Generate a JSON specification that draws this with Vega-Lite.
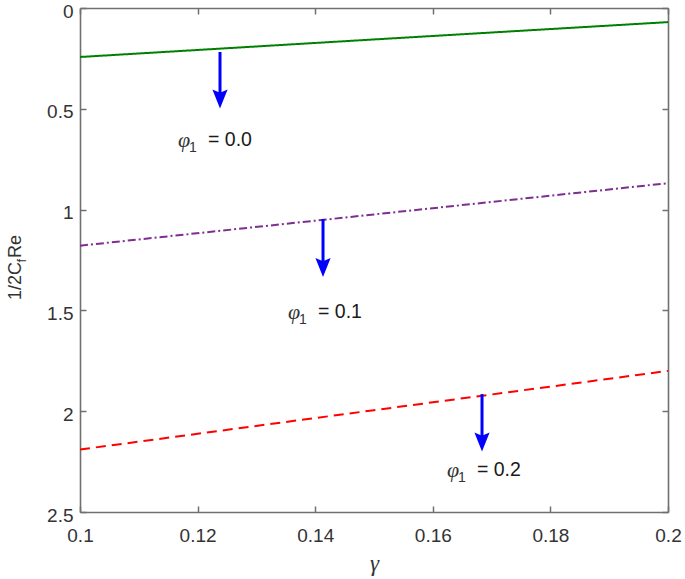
{
  "$schema": "https://vega.github.io/schema/vega-lite/v6.json",
  "width": 588,
  "height": 504,
  "autosize": {"type": "none"},
  "padding": {"left": 80, "top": 8, "right": 17, "bottom": 67},
  "background": "white",
  "config": {
    "view": {"stroke": null},
    "axis": {
      "grid": false,
      "domainColor": "#707070",
      "domainWidth": 1.6,
      "tickColor": "#707070",
      "tickWidth": 1.5,
      "tickSize": -6,
      "labelFlush": false,
      "labelFont": "Liberation Sans",
      "labelFontSize": 19,
      "labelColor": "#333333"
    }
  },
  "datasets": {
    "lines": [
      {"gamma": 0.1, "value": 0.243, "series": "phi0"},
      {"gamma": 0.15, "value": 0.156, "series": "phi0"},
      {"gamma": 0.2, "value": 0.07, "series": "phi0"},
      {"gamma": 0.1, "value": 1.179, "series": "phi1"},
      {"gamma": 0.15, "value": 1.024, "series": "phi1"},
      {"gamma": 0.2, "value": 0.869, "series": "phi1"},
      {"gamma": 0.1, "value": 2.19, "series": "phi2"},
      {"gamma": 0.15, "value": 1.995, "series": "phi2"},
      {"gamma": 0.2, "value": 1.8, "series": "phi2"}
    ],
    "arrows": [
      {"ax": 0.12381, "top": 0.218, "head": 0.451},
      {"ax": 0.14133, "top": 1.047, "head": 1.287},
      {"ax": 0.16837, "top": 1.915, "head": 2.153}
    ],
    "labels": [
      {"lx": 0.11667, "ly": 0.655, "sym": "φ", "sub": "1", "rest": "= 0.0"},
      {"lx": 0.13537, "ly": 1.508, "sym": "φ", "sub": "1", "rest": "= 0.1"},
      {"lx": 0.16241, "ly": 2.292, "sym": "φ", "sub": "1", "rest": "= 0.2"}
    ],
    "ytitle": [
      {"tx": 0.08912, "ty": 1.448, "part": "1/2C", "kind": "main"},
      {"tx": 0.08912, "ty": 1.262, "part": "f", "kind": "sub"},
      {"tx": 0.08912, "ty": 1.24, "part": "Re", "kind": "main2"}
    ]
  },
  "layer": [
    {
      "data": {"name": "lines"},
      "mark": {"type": "line", "strokeWidth": 2},
      "encoding": {
        "x": {
          "field": "gamma", "type": "quantitative",
          "scale": {"domain": [0.1, 0.2], "nice": false, "zero": false},
          "axis": {
            "orient": "bottom",
            "values": [0.1, 0.12, 0.14, 0.16, 0.18, 0.2],
            "format": "~g",
            "labelPadding": 20,
            "title": "γ",
            "titleFont": "Liberation Serif",
            "titleFontStyle": "italic",
            "titleFontWeight": "normal",
            "titleFontSize": 23,
            "titleColor": "#333333",
            "titlePadding": 7
          }
        },
        "y": {
          "field": "value", "type": "quantitative",
          "scale": {"domain": [0, 2.5], "nice": false, "zero": false, "reverse": true},
          "axis": {
            "orient": "left",
            "values": [0, 0.5, 1, 1.5, 2, 2.5],
            "format": "~g",
            "labelPadding": 13,
            "labelOffset": 3,
            "title": null
          }
        },
        "color": {
          "field": "series", "type": "nominal",
          "scale": {"domain": ["phi0", "phi1", "phi2"], "range": ["#008000", "#7E2F8E", "#FF0000"]},
          "legend": null
        },
        "strokeDash": {
          "field": "series", "type": "nominal",
          "scale": {"domain": ["phi0", "phi1", "phi2"], "range": [[1, 0], [8, 3, 2, 3], [10, 6]]},
          "legend": null
        }
      }
    },
    {
      "data": {"name": "arrows"},
      "mark": {"type": "rule", "color": "#0000FF", "strokeWidth": 3},
      "encoding": {
        "x": {
          "field": "ax", "type": "quantitative",
          "axis": {"orient": "top", "values": [0.1, 0.12, 0.14, 0.16, 0.18, 0.2], "labels": false, "title": null}
        },
        "y": {
          "field": "top", "type": "quantitative",
          "axis": {"orient": "right", "values": [0, 0.5, 1, 1.5, 2, 2.5], "labels": false, "title": null}
        },
        "y2": {"field": "head"}
      }
    },
    {
      "data": {"name": "arrows"},
      "mark": {
        "type": "point", "filled": true, "color": "#0000FF", "opacity": 1,
        "shape": "M-0.8,-1L0,-0.65L0.8,-1L0,1Z", "size": 361
      },
      "encoding": {
        "x": {"field": "ax", "type": "quantitative", "axis": null},
        "y": {"field": "head", "type": "quantitative", "axis": null}
      }
    },
    {
      "data": {"name": "labels"},
      "mark": {"type": "text", "align": "left", "baseline": "middle", "font": "Liberation Serif", "fontStyle": "italic", "fontSize": 22, "color": "#333333"},
      "encoding": {
        "x": {"field": "lx", "type": "quantitative", "axis": null},
        "y": {"field": "ly", "type": "quantitative", "axis": null},
        "text": {"field": "sym"}
      }
    },
    {
      "data": {"name": "labels"},
      "mark": {"type": "text", "align": "left", "baseline": "middle", "font": "Liberation Sans", "fontSize": 14, "dx": 11, "dy": 8, "color": "#333333"},
      "encoding": {
        "x": {"field": "lx", "type": "quantitative", "axis": null},
        "y": {"field": "ly", "type": "quantitative", "axis": null},
        "text": {"field": "sub"}
      }
    },
    {
      "data": {"name": "labels"},
      "mark": {"type": "text", "align": "left", "baseline": "middle", "font": "Liberation Sans", "fontSize": 19.5, "dx": 30, "color": "#1a1a1a"},
      "encoding": {
        "x": {"field": "lx", "type": "quantitative", "axis": null},
        "y": {"field": "ly", "type": "quantitative", "axis": null},
        "text": {"field": "rest"}
      }
    },
    {
      "data": {"name": "ytitle"},
      "transform": [{"filter": "datum.kind !== 'sub'"}],
      "mark": {"type": "text", "align": "left", "baseline": "middle", "angle": 270, "font": "Liberation Sans", "fontSize": 18, "color": "#333333"},
      "encoding": {
        "x": {"field": "tx", "type": "quantitative", "axis": null},
        "y": {"field": "ty", "type": "quantitative", "axis": null},
        "text": {"field": "part"}
      }
    },
    {
      "data": {"name": "ytitle"},
      "transform": [{"filter": "datum.kind === 'sub'"}],
      "mark": {"type": "text", "align": "left", "baseline": "middle", "angle": 270, "font": "Liberation Sans", "fontSize": 13, "dy": 6, "color": "#333333"},
      "encoding": {
        "x": {"field": "tx", "type": "quantitative", "axis": null},
        "y": {"field": "ty", "type": "quantitative", "axis": null},
        "text": {"field": "part"}
      }
    }
  ],
  "resolve": {"axis": {"x": "independent", "y": "independent"}}
}
